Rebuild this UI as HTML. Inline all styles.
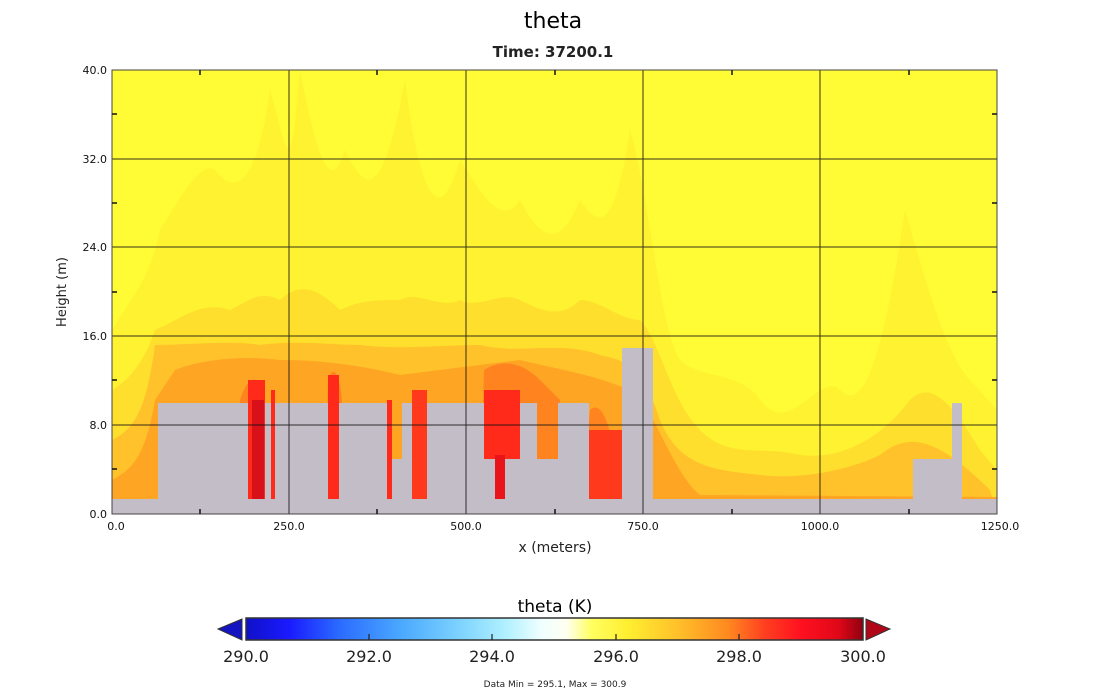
<!DOCTYPE html>
<html><head><meta charset="utf-8"><style>
html,body{margin:0;padding:0;background:#fff;width:1107px;height:691px;overflow:hidden}
svg{display:block}
text{font-family:"DejaVu Sans","Liberation Sans",sans-serif}
</style></head><body>
<svg width="1107" height="691" viewBox="0 0 1107 691" xmlns="http://www.w3.org/2000/svg">
<defs>
<clipPath id="pc"><rect x="112" y="70" width="885" height="444"/></clipPath>
<linearGradient id="cb" x1="0" x2="1" y1="0" y2="0">
<stop offset="0" stop-color="#1010c8"/><stop offset="0.07" stop-color="#1a1aff"/>
<stop offset="0.15" stop-color="#2a6aff"/><stop offset="0.25" stop-color="#4aa8ff"/>
<stop offset="0.35" stop-color="#7fd4ff"/><stop offset="0.42" stop-color="#b0f0ff"/>
<stop offset="0.48" stop-color="#f0ffff"/><stop offset="0.52" stop-color="#fffff0"/>
<stop offset="0.56" stop-color="#ffff60"/><stop offset="0.62" stop-color="#ffee30"/>
<stop offset="0.70" stop-color="#ffc02a"/><stop offset="0.78" stop-color="#ff8a20"/>
<stop offset="0.84" stop-color="#ff4020"/><stop offset="0.90" stop-color="#ff1020"/>
<stop offset="0.96" stop-color="#e00818"/><stop offset="1" stop-color="#900010"/>
</linearGradient>
</defs>
<text x="553" y="28" font-size="22" text-anchor="middle">theta</text>
<text x="553" y="57" font-size="15" text-anchor="middle" font-weight="bold" fill="#222">Time: 37200.1</text>
<g clip-path="url(#pc)">
<rect x="112" y="70" width="885" height="444" fill="#fffb34"/>
<path d="M112,514 L112,330 C130,300 150,280 160,230 C180,200 200,160 215,170 C230,190 255,200 270,90 C285,140 290,200 300,70 C315,150 330,200 345,150 C360,180 380,220 405,80 C420,200 440,230 460,160 C480,190 500,230 520,200 C540,240 560,250 580,200 C600,230 615,230 630,130 C650,200 660,330 680,360 C700,380 740,370 760,400 C790,440 820,370 840,390 C860,410 880,380 905,210 C930,300 950,360 970,380 L997,410 L997,514 Z" fill="#fff230"/>
<path d="M112,514 L112,390 C130,380 145,360 155,330 C180,320 200,300 230,310 C250,300 260,290 280,300 C300,280 320,290 340,310 C360,300 380,300 400,300 C420,290 440,310 460,300 C480,310 500,290 520,300 C540,310 560,320 580,300 C600,300 620,320 640,320 C660,340 670,400 700,430 C730,460 760,445 800,455 C840,460 880,440 910,400 C930,380 950,400 980,450 L997,470 L997,514 Z" fill="#ffdf2d"/>
<path d="M112,514 L112,440 C130,430 145,420 155,345 C190,345 230,340 260,345 C300,340 330,345 360,345 C400,350 440,345 480,345 C520,355 560,340 600,355 C620,360 640,360 660,420 C680,470 720,470 760,475 C800,480 850,470 880,455 C910,430 940,440 990,490 L997,514 Z" fill="#ffc22a"/>
<path d="M112,514 L112,480 C130,470 145,460 155,400 L175,370 C200,360 240,355 280,360 C320,360 360,365 400,375 C440,370 480,365 520,360 C560,370 600,375 640,395 C660,430 680,480 700,495 L997,497 L997,514 Z" fill="#ffa524"/>
<path d="M240,514 L240,400 C250,370 260,375 265,400 L265,514 Z M325,514 L328,380 C335,360 340,380 342,400 L342,514Z M480,514 L484,370 C500,360 520,360 540,380 L560,400 L560,514Z M580,514 L590,410 C600,400 610,420 615,460 L615,514Z" fill="#ff8420"/>
<rect x="248" y="380" width="17" height="120" fill="#ff2a1a"/>
<rect x="252" y="400" width="12" height="100" fill="#d8101a"/>
<rect x="271" y="390" width="4" height="110" fill="#ff2a1a"/>
<rect x="328" y="375" width="11" height="125" fill="#ff2a1a"/>
<rect x="387" y="400" width="5" height="100" fill="#ff2a1a"/>
<rect x="412" y="390" width="15" height="110" fill="#ff3a1c"/>
<rect x="484" y="390" width="36" height="70" fill="#ff2a1a"/>
<rect x="495" y="455" width="10" height="45" fill="#e8141a"/>
<rect x="589" y="430" width="33" height="70" fill="#ff3a1c"/>
<g fill="#c3bdc8">
<rect x="112" y="499" width="885" height="15"/>
<rect x="158" y="403" width="90" height="111"/>
<rect x="265" y="403" width="6" height="111"/>
<rect x="275" y="403" width="53" height="111"/>
<rect x="339" y="403" width="48" height="111"/>
<rect x="392" y="459" width="20" height="55"/>
<rect x="402" y="403" width="10" height="111"/>
<rect x="427" y="403" width="57" height="111"/>
<rect x="484" y="459" width="11" height="55"/>
<rect x="505" y="459" width="15" height="55"/>
<rect x="520" y="403" width="17" height="111"/>
<rect x="537" y="459" width="21" height="55"/>
<rect x="558" y="403" width="31" height="111"/>
<rect x="622" y="348" width="31" height="166"/>
<rect x="913" y="459" width="49" height="55"/>
<rect x="952" y="403" width="10" height="111"/>
</g>
<g stroke="#111" stroke-width="1" opacity="0.85">
<line x1="289" y1="70" x2="289" y2="514"/><line x1="466" y1="70" x2="466" y2="514"/>
<line x1="643" y1="70" x2="643" y2="514"/><line x1="820" y1="70" x2="820" y2="514"/>
<line x1="112" y1="159" x2="997" y2="159"/><line x1="112" y1="247" x2="997" y2="247"/>
<line x1="112" y1="336" x2="997" y2="336"/><line x1="112" y1="425" x2="997" y2="425"/>
</g>
</g>
<rect x="112" y="70" width="885" height="444" fill="none" stroke="#444" stroke-width="1"/>
<g stroke="#111" stroke-width="1.5">
<line x1="112" y1="114" x2="117" y2="114"/><line x1="112" y1="203" x2="117" y2="203"/>
<line x1="112" y1="292" x2="117" y2="292"/><line x1="112" y1="380" x2="117" y2="380"/><line x1="112" y1="469" x2="117" y2="469"/>
<line x1="997" y1="114" x2="992" y2="114"/><line x1="997" y1="203" x2="992" y2="203"/>
<line x1="997" y1="292" x2="992" y2="292"/><line x1="997" y1="380" x2="992" y2="380"/><line x1="997" y1="469" x2="992" y2="469"/>
<line x1="200" y1="514" x2="200" y2="509"/><line x1="377" y1="514" x2="377" y2="509"/><line x1="555" y1="514" x2="555" y2="509"/><line x1="732" y1="514" x2="732" y2="509"/><line x1="909" y1="514" x2="909" y2="509"/>
<line x1="200" y1="70" x2="200" y2="75"/><line x1="377" y1="70" x2="377" y2="75"/><line x1="555" y1="70" x2="555" y2="75"/><line x1="732" y1="70" x2="732" y2="75"/><line x1="909" y1="70" x2="909" y2="75"/>
</g>
<g font-size="11" text-anchor="end" fill="#111">
<text x="107" y="74">40.0</text><text x="107" y="163">32.0</text><text x="107" y="251">24.0</text>
<text x="107" y="340">16.0</text><text x="107" y="429">8.0</text><text x="107" y="518">0.0</text>
</g>
<g font-size="11" text-anchor="middle" fill="#111">
<text x="116" y="530">0.0</text><text x="289" y="530">250.0</text><text x="466" y="530">500.0</text>
<text x="643" y="530">750.0</text><text x="820" y="530">1000.0</text><text x="1000" y="530">1250.0</text>
</g>
<text x="555" y="552" font-size="14" text-anchor="middle" fill="#222">x (meters)</text>
<text transform="translate(66,292) rotate(-90)" font-size="13" text-anchor="middle" fill="#222">Height (m)</text>
<text x="555" y="612" font-size="17" text-anchor="middle">theta (K)</text>
<rect x="246" y="618" width="617" height="22" fill="url(#cb)" stroke="#333" stroke-width="1.5"/>
<polygon points="218,629 242,619 242,640" fill="#1414c0" stroke="#333"/>
<polygon points="890,629 866,619 866,640" fill="#b00818" stroke="#333"/>
<g stroke="#222" stroke-width="1.2">
<line x1="369" y1="640" x2="369" y2="634"/><line x1="492" y1="640" x2="492" y2="634"/>
<line x1="616" y1="640" x2="616" y2="634"/><line x1="739" y1="640" x2="739" y2="634"/>
</g>
<g font-size="16" text-anchor="middle" fill="#222">
<text x="246" y="662">290.0</text><text x="369" y="662">292.0</text><text x="492" y="662">294.0</text>
<text x="616" y="662">296.0</text><text x="739" y="662">298.0</text><text x="863" y="662">300.0</text>
</g>
<text x="555" y="687" font-size="9" text-anchor="middle" fill="#222">Data Min = 295.1, Max = 300.9</text>
</svg>
</body></html>
